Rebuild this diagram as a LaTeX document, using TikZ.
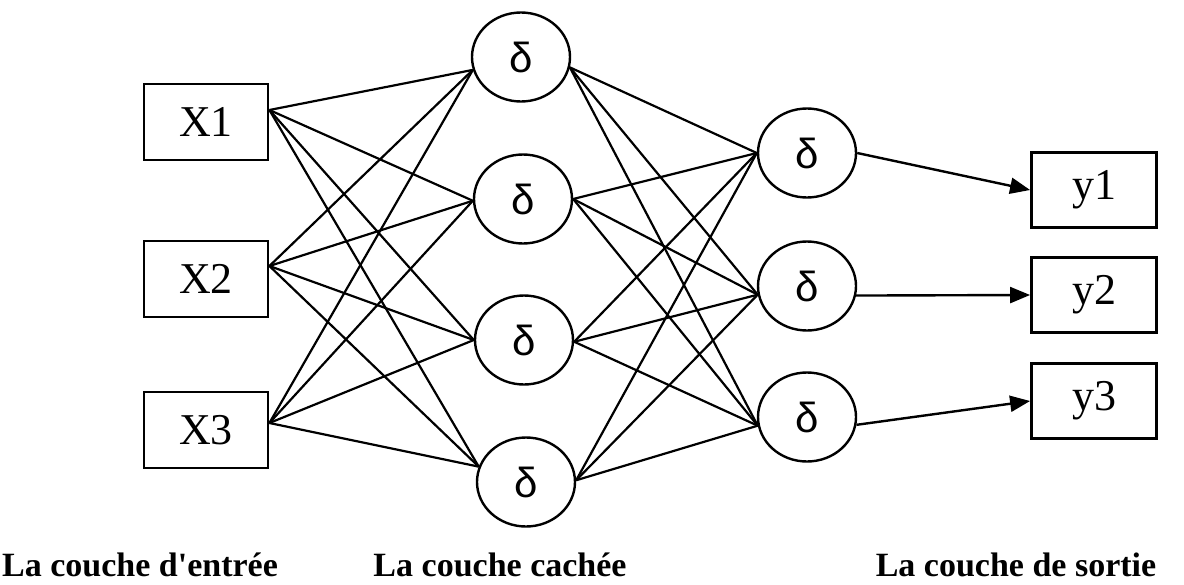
\documentclass[tikz,border=0pt]{standalone}
\usepackage{fontspec}
\setmainfont{Liberation Serif}
\newfontfamily\dsans{Liberation Sans}
\usetikzlibrary{arrows.meta,shapes.geometric}
\begin{document}
\begin{tikzpicture}[x=0.5pt,y=-0.5pt,
  inbox/.style={draw,line width=1.4pt,minimum width=62pt,minimum height=38pt,inner sep=0pt,font=\fontsize{22}{22}\selectfont},
  outbox/.style={draw,line width=1.4pt,minimum width=62.5pt,minimum height=37.5pt,inner sep=0pt,font=\fontsize{22}{22}\selectfont},
  neuron/.style={draw,ellipse,line width=1.2pt,minimum width=49pt,minimum height=44.5pt,inner sep=0pt,font=\dsans\fontsize{21}{21}\selectfont},
  link/.style={line width=1.1pt},
  arr/.style={line width=1.2pt,-{Triangle[length=10pt,width=8pt]}},
  layerlbl/.style={font=\bfseries\fontsize{17}{17}\selectfont,anchor=base}
]
\useasboundingbox (0,0) rectangle (1184,584);
% input boxes
\node[inbox] (x1) at (206,122) {X1};
\node[inbox] (x2) at (206,279) {X2};
\node[inbox] (x3) at (206,430) {X3};
% hidden layer 1
\node[neuron] (a1) at (521,57) {δ};
\node[neuron] (a2) at (523,199) {δ};
\node[neuron] (a3) at (524,340) {δ};
\node[neuron] (a4) at (526,482) {δ};
% hidden layer 2
\node[neuron] (b1) at (807,153) {δ};
\node[neuron] (b2) at (807,286) {δ};
\node[neuron] (b3) at (807,417) {δ};
% output boxes
\node[outbox] (y1) at (1094,190) {y1};
\node[outbox] (y2) at (1094,295) {y2};
\node[outbox] (y3) at (1094,401) {y3};
% ports
\coordinate (x1o) at ([yshift=6pt]x1.east);
\coordinate (x2o) at ([yshift=6.5pt]x2.east);
\coordinate (x3o) at ([yshift=3.5pt]x3.east);
\coordinate (a1i) at (a1.195);
\coordinate (a2i) at (a2.182);
\coordinate (a3i) at (a3.180);
\coordinate (a4i) at (a4.162);
\coordinate (a1o) at (a1.-12);
\coordinate (a2o) at (a2.0);
\coordinate (a3o) at (a3.-2);
\coordinate (a4o) at (a4.2);
\coordinate (b1i) at (b1.180);
\coordinate (b2i) at (b2.190);
\coordinate (b3i) at (b3.190);
\coordinate (b1o) at (b1.0);
\coordinate (b2o) at (b2.-11);
\coordinate (b3o) at (b3.-9);
% connections input -> hidden 1
\foreach \i in {1,2,3}{
  \foreach \j in {1,2,3,4}{
    \draw[link] (x\i o) -- (a\j i);
  }
}
% hidden 1 -> hidden 2
\foreach \i in {1,2,3,4}{
  \foreach \j in {1,2,3}{
    \draw[link] (a\i o) -- (b\j i);
  }
}
% hidden 2 -> output
\draw[arr] (b1o) -- (y1.west);
\draw[arr] (b2o) -- (y2.west);
\draw[arr] (b3o) -- (y3.west);
% labels
\node[layerlbl] (l1) at (140,576) {La couche d\textquotesingle entrée};
\node[layerlbl] (l2) at (500,576) {La couche cachée};
\node[layerlbl] (l3) at (1016,576) {La couche de sortie};
\end{tikzpicture}
\end{document}
